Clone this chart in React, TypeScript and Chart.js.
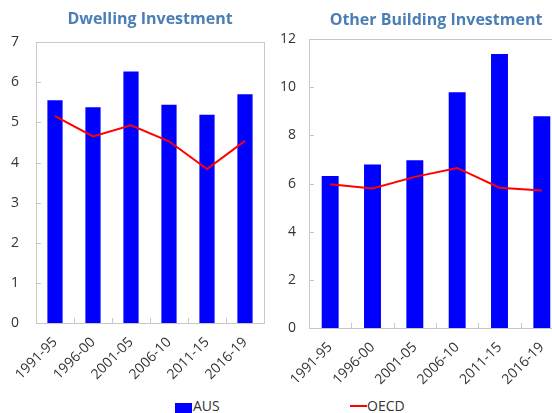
import React, { useEffect, useRef } from "react";
import { Chart, registerables } from "chart.js";

Chart.register(...registerables);

const categories = ["1991-95", "1996-00", "2001-05", "2006-10", "2011-15", "2016-19"];
const dwellingAus = [5.55, 5.38, 6.27, 5.44, 5.19, 5.7];
const dwellingOecd = [5.16, 4.65, 4.93, 4.53, 3.84, 4.54];
const otherAus = [6.32, 6.79, 6.97, 9.8, 11.39, 8.8];
const otherOecd = [5.97, 5.8, 6.28, 6.65, 5.83, 5.71];

const FONT = "'Open Sans', 'Noto Sans', sans-serif";
const TEXT = "#333333";
const AXIS = "#c8c8c8";

const boxPlugin = {
  id: "boxTicks",
  afterDraw(chart: any) {
    const { ctx, chartArea, scales } = chart;
    const { left, right, top, bottom } = chartArea;
    ctx.save();
    ctx.strokeStyle = AXIS;
    ctx.lineWidth = 1;
    ctx.strokeRect(Math.round(left) + 0.5, Math.round(top) + 0.5, Math.round(right - left), Math.round(bottom - top));
    ctx.beginPath();
    const ys = scales.y;
    ys.ticks.forEach((t: any) => {
      const y = Math.round(ys.getPixelForValue(t.value)) + 0.5;
      ctx.moveTo(left, y);
      ctx.lineTo(left + 5, y);
    });
    const xs = scales.x;
    const n = chart.data.labels.length;
    for (let i = 1; i < n; i++) {
      const x = Math.round((xs.getPixelForValue(i - 1) + xs.getPixelForValue(i)) / 2) + 0.5;
      ctx.moveTo(x, bottom);
      ctx.lineTo(x, bottom - 5);
    }
    ctx.stroke();
    ctx.restore();
  },
};

function makeConfig(
  title: string,
  aus: number[],
  oecd: number[],
  max: number,
  step: number,
  yWidth: number,
  xHeight: number,
  padRight: number,
  yPad: number,
  titlePad: { top: number; bottom: number }
): any {
  return {
    type: "bar",
    data: {
      labels: categories,
      datasets: [
        {
          type: "line",
          label: "OECD",
          data: oecd,
          borderColor: "#ff0000",
          backgroundColor: "#ff0000",
          borderWidth: 2,
          pointRadius: 0,
          tension: 0,
          order: 0,
        },
        {
          type: "bar",
          label: "AUS",
          data: aus,
          backgroundColor: "#0000ff",
          borderWidth: 0,
          barPercentage: 0.4,
          categoryPercentage: 1,
          order: 1,
        },
      ],
    },
    options: {
      animation: false,
      responsive: false,
      layout: { padding: { left: 0, right: padRight, top: 0, bottom: 0 } },
      plugins: {
        legend: { display: false },
        tooltip: { enabled: false },
        title: {
          display: true,
          text: title,
          color: "#4a7eb5",
          fullSize: false,
          font: { family: FONT, size: 16, weight: "bold", lineHeight: 1.2 },
          padding: titlePad,
        },
      },
      scales: {
        x: {
          grid: { display: false, drawTicks: false },
          border: { display: false },
          ticks: {
            color: TEXT,
            font: { family: FONT, size: 14 },
            maxRotation: 45,
            minRotation: 45,
            padding: 11,
          },
          afterFit(s: any) {
            s.height = xHeight;
          },
        },
        y: {
          min: 0,
          max,
          grid: { display: false, drawTicks: false },
          border: { display: false },
          ticks: {
            stepSize: step,
            color: TEXT,
            font: { family: FONT, size: 14 },
            padding: yPad,
          },
          afterFit(s: any) {
            s.width = yWidth;
          },
        },
      },
    },
    plugins: [boxPlugin],
  };
}

function ChartCanvas({ config, width, height, left }: any) {
  const ref = useRef<HTMLCanvasElement | null>(null);
  useEffect(() => {
    if (!ref.current) return;
    const c = new Chart(ref.current, config);
    return () => c.destroy();
  }, []);
  return (
    <canvas
      ref={ref}
      width={width}
      height={height}
      style={{ position: "absolute", left, top: 0, width, height }}
    />
  );
}

export default function App() {
  const leftCfg = makeConfig("Dwelling Investment", dwellingAus, dwellingOecd, 7, 1, 36, 68, 12, 17, { top: 10, bottom: 13 });
  const rightCfg = makeConfig("Other Building Investment", otherAus, otherOecd, 12, 2, 33, 63, 13, 13, { top: 11, bottom: 9 });
  return (
    <div
      style={{
        position: "fixed",
        left: 0,
        top: 0,
        width: 552,
        height: 413,
        overflow: "hidden",
        background: "#ffffff",
        fontFamily: FONT,
      }}
    >
      <ChartCanvas config={leftCfg} width={276} height={391} left={0} />
      <ChartCanvas config={rightCfg} width={300} height={391} left={276} />
      <div style={{ position: "absolute", left: 175, top: 403, width: 17, height: 10, background: "#0000ff" }} />
      <div style={{ position: "absolute", left: 193, top: 396, fontSize: 14, lineHeight: "20px", color: TEXT }}>AUS</div>
      <div style={{ position: "absolute", left: 350, top: 405, width: 17, height: 2, background: "#ff0000" }} />
      <div style={{ position: "absolute", left: 367, top: 396, fontSize: 14, lineHeight: "20px", color: TEXT }}>OECD</div>
    </div>
  );
}
